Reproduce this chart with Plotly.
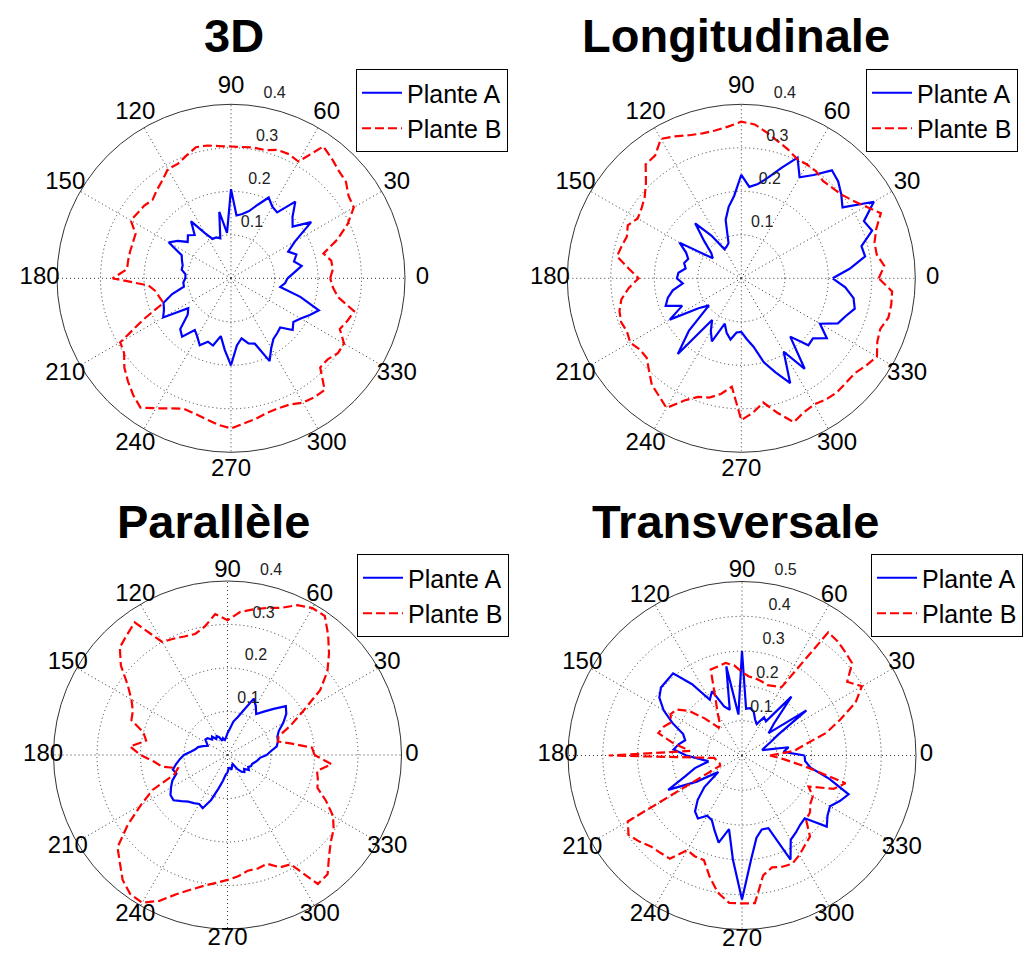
import plotly.graph_objects as go

# Angles (degrees), every 5 degrees
theta_deg = list(range(0, 360, 5))

# --- 3D ---
d3_plante_a = [0.13, 0.145, 0.165, 0.15, 0.16, 0.145, 0.17, 0.225, 0.185, 0.2, 0.23, 0.185,
               0.19, 0.205, 0.18, 0.16, 0.15, 0.145, 0.205, 0.105, 0.155, 0.095, 0.1, 0.1,
               0.12, 0.16, 0.13, 0.14, 0.13, 0.15, 0.165, 0.125, 0.12, 0.115, 0.115, 0.105,
               0.105, 0.11, 0.11, 0.14, 0.165, 0.17, 0.18, 0.12, 0.13, 0.165, 0.175, 0.145,
               0.155, 0.17, 0.155, 0.16, 0.135, 0.165, 0.2, 0.155, 0.14, 0.155, 0.16, 0.21,
               0.185, 0.17, 0.165, 0.16, 0.185, 0.175, 0.185, 0.2, 0.215, 0.165, 0.115, 0.125]
d3_plante_b = [0.228, 0.235, 0.234, 0.22, 0.26, 0.296, 0.326, 0.33, 0.345, 0.35, 0.36, 0.37,
               0.31, 0.315, 0.314, 0.305, 0.305, 0.303, 0.303, 0.305, 0.31, 0.312, 0.3, 0.29,
               0.29, 0.275, 0.265, 0.255, 0.26, 0.262, 0.266, 0.242, 0.24, 0.24, 0.24, 0.24,
               0.272, 0.19, 0.175, 0.17, 0.165, 0.22, 0.294, 0.3, 0.32, 0.335, 0.35, 0.363,
               0.345, 0.33, 0.319, 0.322, 0.329, 0.338, 0.345, 0.335, 0.328, 0.32, 0.318, 0.32,
               0.33, 0.334, 0.335, 0.29, 0.29, 0.3, 0.3, 0.276, 0.285, 0.293, 0.25, 0.235]

# --- Longitudinale ---
lon_plante_a = [0.21, 0.25, 0.289, 0.286, 0.32, 0.311, 0.352, 0.284, 0.3, 0.315, 0.324, 0.29,
                0.268, 0.306, 0.27, 0.24, 0.22, 0.211, 0.238, 0.19, 0.167, 0.139, 0.086, 0.08,
                0.077, 0.12, 0.165, 0.12, 0.09, 0.08, 0.164, 0.14, 0.13, 0.136, 0.13, 0.145,
                0.148, 0.135, 0.16, 0.175, 0.185, 0.15, 0.19, 0.12, 0.097, 0.17, 0.227, 0.117,
                0.14, 0.16, 0.111, 0.13, 0.143, 0.125, 0.123, 0.14, 0.159, 0.2, 0.23, 0.266,
                0.195, 0.254, 0.175, 0.218, 0.215, 0.24, 0.209, 0.245, 0.255, 0.27, 0.262, 0.24]
lon_plante_b = [0.316, 0.33, 0.316, 0.317, 0.33, 0.354, 0.33, 0.312, 0.3, 0.295, 0.292, 0.3,
                0.302, 0.303, 0.315, 0.326, 0.34, 0.355, 0.36, 0.35, 0.345, 0.345, 0.35, 0.36,
                0.37, 0.345, 0.342, 0.31, 0.29, 0.28, 0.275, 0.288, 0.28, 0.285, 0.29, 0.26,
                0.236, 0.26, 0.28, 0.29, 0.294, 0.29, 0.295, 0.285, 0.284, 0.3, 0.32, 0.33,
                0.344, 0.31, 0.29, 0.284, 0.27, 0.25, 0.326, 0.31, 0.29, 0.32, 0.352, 0.34,
                0.335, 0.34, 0.342, 0.34, 0.34, 0.35, 0.36, 0.345, 0.34, 0.35, 0.35, 0.348]

# --- Parallèle ---
par_plante_a = [0.09, 0.1, 0.115, 0.12, 0.122, 0.13, 0.148, 0.165, 0.175, 0.15, 0.13, 0.115,
                0.13, 0.143, 0.11, 0.09, 0.078, 0.06, 0.05, 0.04, 0.035, 0.04, 0.035, 0.045,
                0.05, 0.045, 0.055, 0.05, 0.06, 0.062, 0.055, 0.05, 0.06, 0.07, 0.075, 0.085,
                0.1, 0.11, 0.12, 0.13, 0.125, 0.14, 0.15, 0.16, 0.162, 0.15, 0.14, 0.135,
                0.13, 0.135, 0.11, 0.08, 0.06, 0.045, 0.04, 0.03, 0.03, 0.035, 0.03, 0.025,
                0.024, 0.04, 0.05, 0.055, 0.05, 0.06, 0.055, 0.06, 0.06, 0.065, 0.07, 0.075]
par_plante_b = [0.2, 0.195, 0.15, 0.12, 0.125, 0.16, 0.2, 0.26, 0.3, 0.33, 0.36, 0.39,
                0.39, 0.38, 0.36, 0.35, 0.34, 0.33, 0.31, 0.325, 0.3, 0.288, 0.29, 0.295,
                0.3, 0.372, 0.36, 0.35, 0.32, 0.28, 0.255, 0.24, 0.235, 0.2, 0.19, 0.225,
                0.2, 0.17, 0.153, 0.118, 0.13, 0.19, 0.23, 0.28, 0.33, 0.35, 0.375, 0.39,
                0.392, 0.37, 0.34, 0.32, 0.305, 0.295, 0.287, 0.28, 0.27, 0.27, 0.266, 0.285,
                0.29, 0.362, 0.358, 0.33, 0.31, 0.298, 0.28, 0.25, 0.22, 0.215, 0.209, 0.24]

# --- Transversale ---
tra_plante_a = [0.18, 0.12, 0.136, 0.06, 0.07, 0.09, 0.12, 0.226, 0.1, 0.13, 0.221, 0.12,
                0.127, 0.1, 0.11, 0.13, 0.138, 0.135, 0.3, 0.118, 0.26, 0.136, 0.15, 0.204,
                0.185, 0.25, 0.308, 0.305, 0.304, 0.29, 0.26, 0.22, 0.18, 0.169, 0.185, 0.197,
                0.16, 0.12, 0.098, 0.14, 0.173, 0.234, 0.15, 0.083, 0.141, 0.18, 0.21, 0.221,
                0.2, 0.205, 0.23, 0.259, 0.215, 0.3, 0.414, 0.3, 0.24, 0.22, 0.222, 0.33,
                0.28, 0.27, 0.26, 0.255, 0.318, 0.3, 0.292, 0.31, 0.326, 0.26, 0.2, 0.182]
tra_plante_b = [0.08, 0.15, 0.185, 0.25, 0.3, 0.36, 0.398, 0.369, 0.413, 0.42, 0.428, 0.432,
                0.226, 0.22, 0.215, 0.22, 0.225, 0.228, 0.24, 0.26, 0.27, 0.265, 0.263, 0.18,
                0.14, 0.11, 0.104, 0.15, 0.2, 0.23, 0.237, 0.225, 0.24, 0.249, 0.2, 0.15,
                0.383, 0.08, 0.075, 0.07, 0.068, 0.069, 0.379, 0.398, 0.385, 0.37, 0.365, 0.362,
                0.314, 0.32, 0.32, 0.36, 0.4, 0.425, 0.425, 0.426, 0.35, 0.333, 0.34, 0.343,
                0.33, 0.315, 0.304, 0.26, 0.255, 0.24, 0.235, 0.211, 0.28, 0.308, 0.186, 0.12]

titles = ["3D", "Longitudinale", "Parallèle", "Transversale"]
series_a = [d3_plante_a, lon_plante_a, par_plante_a, tra_plante_a]
series_b = [d3_plante_b, lon_plante_b, par_plante_b, tra_plante_b]
radial_max = [0.4, 0.4, 0.4, 0.5]
radial_ticks = [[0.1, 0.2, 0.3, 0.4], [0.1, 0.2, 0.3, 0.4], [0.1, 0.2, 0.3, 0.4],
                [0.1, 0.2, 0.3, 0.4, 0.5]]
angle_ticks = list(range(0, 360, 30))
legend_names = ["Plante A", "Plante B"]

# The page body has an 8px margin; the figure is sized so that nothing overflows the window.
OFF = 8
W, H = 1032 - 2 * OFF, 961 - 2 * OFF
centers = [(231.0, 278.3), (741.3, 278.3), (227.5, 755.0), (742.0, 755.5)]
R = 174.0
LABEL_SCALE = 1.12                     # overlay polar used to place MATLAB-style labels
ANG_LABEL_R = [1.1, 1.1, 1.06, 1.06]   # angular labels radius (fraction of rmax)
legend_pos = [(356, 69), (866, 69), (357, 554), (871, 554)]
title_pos = [(234, 35), (736, 35), (213, 521), (735, 521)]

FONT = "Liberation Sans, Arial, sans-serif"
fig = go.Figure()
layout = dict(width=W, height=H, margin=dict(l=0, r=0, t=0, b=0),
              paper_bgcolor="white", plot_bgcolor="white", showlegend=True,
              font=dict(family=FONT, color="black"))
annotations = []


def dom(cx, cy, rad):
    return dict(x=[(cx - rad) / W, (cx + rad) / W], y=[(H - cy - rad) / H, (H - cy + rad) / H])


for i in range(4):
    pid = "polar" if i == 0 else f"polar{i+1}"
    lab_pid = f"polar{i+5}"
    lid = "legend" if i == 0 else f"legend{i+1}"
    rmax = radial_max[i]
    th = theta_deg + [theta_deg[0]]
    ra = series_a[i] + [series_a[i][0]]
    rb = series_b[i] + [series_b[i][0]]
    fig.add_trace(go.Scatterpolar(r=ra, theta=th, mode="lines", name=legend_names[0],
                                  line=dict(color="#0000ff", width=2.2),
                                  subplot=pid, legend=lid))
    fig.add_trace(go.Scatterpolar(r=rb, theta=th, mode="lines", name=legend_names[1],
                                  line=dict(color="#ff0000", width=2.2, dash="9px,4px"),
                                  subplot=pid, legend=lid))
    # angular tick labels (overlay polar with same centre and same pixel scale)
    fig.add_trace(go.Scatterpolar(r=[ANG_LABEL_R[i] * rmax] * len(angle_ticks),
                                  theta=angle_ticks,
                                  mode="text", text=[str(a) for a in angle_ticks],
                                  textposition="middle center", cliponaxis=False,
                                  textfont=dict(size=24, color="black", family=FONT),
                                  showlegend=False, hoverinfo="skip", subplot=lab_pid))
    # radial tick labels next to the 80 degree spoke
    fig.add_trace(go.Scatterpolar(r=[v + 0.075 * rmax for v in radial_ticks[i]],
                                  theta=[80] * len(radial_ticks[i]),
                                  mode="text", text=[f"{v:.1f}" for v in radial_ticks[i]],
                                  textposition="middle right", cliponaxis=False,
                                  textfont=dict(size=16, color="#222222", family=FONT),
                                  showlegend=False, hoverinfo="skip", subplot=lab_pid))
    cx, cy = centers[i][0] - OFF, centers[i][1] - OFF
    layout[pid] = dict(
        domain=dom(cx, cy, R),
        bgcolor="white",
        radialaxis=dict(range=[0, rmax], tickvals=radial_ticks[i], showticklabels=False,
                        showline=False, ticks="",
                        gridcolor="#333333", griddash="1px,3px", gridwidth=1),
        angularaxis=dict(rotation=0, direction="counterclockwise",
                         tickvals=angle_ticks, showticklabels=False,
                         showline=True, linecolor="#333333", linewidth=1,
                         gridcolor="#333333", griddash="1px,3px", gridwidth=1, ticks=""),
    )
    layout[lab_pid] = dict(
        domain=dom(cx, cy, R * LABEL_SCALE),
        bgcolor="rgba(0,0,0,0)",
        radialaxis=dict(range=[0, rmax * LABEL_SCALE], visible=False),
        angularaxis=dict(rotation=0, direction="counterclockwise", visible=False),
    )
    lx, ly = legend_pos[i][0] - OFF, legend_pos[i][1] - OFF
    layout[lid] = dict(x=lx / W, y=1 - ly / H, xanchor="left", yanchor="top",
                       bgcolor="white", bordercolor="black", borderwidth=1,
                       font=dict(size=25, family=FONT, color="black"),
                       tracegroupgap=0, itemwidth=40)
    tx, ty = title_pos[i][0] - OFF, title_pos[i][1] - OFF
    annotations.append(dict(text=f"<b>{titles[i]}</b>", x=tx / W, y=1 - ty / H,
                            xref="paper", yref="paper", showarrow=False,
                            xanchor="center", yanchor="middle",
                            font=dict(size=47, family=FONT, color="black")))

layout["annotations"] = annotations
fig.update_layout(**layout)
fig.write_html("out.html")
